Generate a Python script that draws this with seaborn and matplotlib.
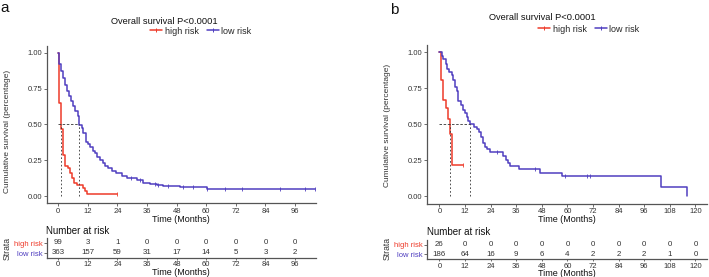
import numpy as np
import matplotlib
matplotlib.use("Agg")
import matplotlib.pyplot as plt
from matplotlib.lines import Line2D
import seaborn as sns

sns.set_style("ticks")
plt.rcParams['font.family'] = ['Liberation Sans', 'DejaVu Sans']

RED = "#EE3B2A"
PURPLE = "#4F3EC0"
GREY_TXT = "#333333"

# ---------------- Panel a data ----------------
a_high_t = [0, 0.1, 0.3, 0.95, 1.76, 2.84, 4.05, 4.73, 5.41, 6.35, 7.43, 10.1, 10.9, 11.8, 23.9]
a_high_s = [1.0, 0.92, 0.65, 0.47, 0.29, 0.21, 0.195, 0.16, 0.125, 0.093, 0.08, 0.06, 0.037, 0.016, 0.016]
a_high_cens = [23.9]

a_low_t = [0, 0.2, 0.95, 1.76, 2.84, 3.38, 4.32, 5.14, 5.95, 6.89, 7.84, 8.38, 9.46, 10.1, 11.1,
           11.9, 12.8, 13.9, 14.9, 15.8, 16.9, 18.0, 18.9, 20.3, 21.6, 23.6, 25.7, 27.7, 31.8,
           34.5, 37.2, 39.9, 42.6, 49.3, 60.1, 104.0]
a_low_s = [1.0, 0.925, 0.876, 0.825, 0.778, 0.731, 0.696, 0.661, 0.626, 0.591, 0.556, 0.499,
           0.474, 0.439, 0.381, 0.364, 0.346, 0.318, 0.299, 0.276, 0.252, 0.234, 0.213, 0.194,
           0.178, 0.159, 0.143, 0.124, 0.112, 0.093, 0.086, 0.077, 0.070, 0.065, 0.051, 0.051]
a_low_cens = [29.5, 33.1, 39.2, 40.6, 44.5, 50.6, 54.6, 60.3, 67.6, 74.5, 89.9, 100.0, 104.0]

a_ticks = [0, 12, 24, 36, 48, 60, 72, 84, 96]
a_risk_high = [99, 3, 1, 0, 0, 0, 0, 0, 0]
a_risk_low = [363, 157, 59, 31, 17, 14, 5, 3, 2]

# ---------------- Panel b data ----------------
b_high_t = [0, 0.6, 1.9, 3.0, 4.1, 5.0, 6.1, 11.3]
b_high_s = [1.0, 0.81, 0.67, 0.615, 0.535, 0.43, 0.214, 0.214]
b_high_cens = [11.3]

b_low_t = [0, 1.1, 1.9, 3.0, 3.8, 4.7, 5.8, 6.6, 7.4, 8.2, 8.9, 10.0, 11.0, 12.1, 12.9, 13.6,
           14.4, 16.3, 17.5, 18.6, 19.4, 20.4, 21.5, 22.2, 23.8, 30.0, 31.3, 32.4, 33.2, 37.1,
           47.3, 57.4, 104.0, 116.0]
b_low_s = [1.0, 0.977, 0.954, 0.92, 0.885, 0.862, 0.839, 0.805, 0.759, 0.729, 0.66, 0.632,
           0.598, 0.575, 0.547, 0.524, 0.499, 0.483, 0.467, 0.444, 0.414, 0.372, 0.345, 0.329,
           0.306, 0.28, 0.253, 0.234, 0.211, 0.19, 0.161, 0.138, 0.065, 0.0]
b_low_cens = [26.9, 44.9, 59.0, 69.2, 70.7]

b_ticks = [0, 12, 24, 36, 48, 60, 72, 84, 96, 108, 120]
b_risk_high = [26, 0, 0, 0, 0, 0, 0, 0, 0, 0, 0]
b_risk_low = [186, 64, 16, 9, 6, 4, 2, 2, 2, 1, 0]

groups = ["high risk", "low risk"]
colors = [RED, PURPLE]

W, H = 709, 277
fig = plt.figure(figsize=(W / 100, H / 100), dpi=100)


def box(l, r, t, b):
    return [l / W, 1 - b / H, (r - l) / W, (b - t) / H]


def style_axis(ax, pad=1.5):
    for side in ["top", "right"]:
        ax.spines[side].set_visible(False)
    for side in ["left", "bottom"]:
        ax.spines[side].set_color("#555555")
        ax.spines[side].set_linewidth(0.9)
    ax.tick_params(axis="both", length=2.0, width=0.6, color="#555555",
                   labelsize=5.5, labelcolor=GREY_TXT, pad=pad)


def step_at(t, s, q):
    t = np.asarray(t)
    s = np.asarray(s)
    idx = np.searchsorted(t, q, side="right") - 1
    return s[idx]


def median_time(t, s):
    t = np.asarray(t)
    s = np.asarray(s)
    return t[np.argmax(s <= 0.5)]


def panel(main_box, tab_box, xlim, ticks, curves, risks, title_pos,
          leg_pos, ylab_pos, strata_pos, nar_pos):
    ax = fig.add_axes(box(*main_box))
    for (t, s, cens), col in zip(curves, colors):
        sns.lineplot(x=t, y=s, drawstyle="steps-post", estimator=None, sort=False,
                     color=col, lw=1.1, ax=ax)
        sns.scatterplot(x=cens, y=step_at(t, s, cens), marker="|", s=12,
                        color=col, linewidth=0.6, ax=ax)
    meds = [median_time(t, s) for (t, s, c) in curves]
    ax.plot([0, max(meds)], [0.5, 0.5], ls=(0, (3, 2)), color="#333333", lw=0.6)
    for m in meds:
        ax.plot([m, m], [0, 0.5], ls=(0, (2, 2.5)), color="#333333", lw=0.6)
    ax.set_xlim(*xlim)
    ax.set_ylim(-0.05, 1.05)
    ax.set_xticks(ticks)
    ax.set_yticks([0, 0.25, 0.5, 0.75, 1.0])
    ax.set_yticklabels(["0.00", "0.25", "0.50", "0.75", "1.00"])
    style_axis(ax, pad=1.2)
    ax.set_xlabel("Time (Months)", fontsize=6.5, labelpad=0.0, color="#111111")
    ax.set_ylabel("")

    fig.text(ylab_pos[0] / W, 1 - ylab_pos[1] / H, "Cumulative survival (percentage)",
             rotation=90, ha="center", va="center", fontsize=6, color=GREY_TXT)
    fig.text(title_pos[0] / W, 1 - title_pos[1] / H, "Overall survival P<0.0001",
             ha="center", va="center", fontsize=6.7, color="#111111")

    handles = [Line2D([0], [0], color=c, lw=1.1, marker="|", markersize=3,
                      markeredgewidth=0.7) for c in colors]
    fig.legend(handles, groups, loc="center", bbox_to_anchor=(leg_pos[0] / W, 1 - leg_pos[1] / H),
               ncol=2, frameon=False, fontsize=6.5, handlelength=1.3, handletextpad=0.3,
               columnspacing=0.9, borderpad=0, borderaxespad=0)

    tab = fig.add_axes(box(*tab_box))
    tab.set_xlim(*xlim)
    tab.set_ylim(-0.5, 1.5)
    for row, (vals, col) in enumerate(zip(risks, colors)):
        y = 1 - row
        for xv, v in zip(ticks, vals):
            tab.text(xv, y, str(v), ha="center", va="center", fontsize=5.7, color=GREY_TXT)
    tab.set_xticks(ticks)
    tab.set_yticks([1, 0])
    tab.set_yticklabels(groups)
    style_axis(tab, pad=0.8)
    tab.tick_params(axis="x", length=1.6)
    for lbl, col in zip(tab.get_yticklabels(), colors):
        lbl.set_color(col)
    tab.set_xlabel("Time (Months)", fontsize=6.5, labelpad=-0.5, color="#111111")
    fig.text(strata_pos[0] / W, 1 - strata_pos[1] / H, "Strata", rotation=90,
             ha="center", va="center", fontsize=6.2, color=GREY_TXT)
    fig.text(nar_pos[0] / W, 1 - nar_pos[1] / H, "Number at risk",
             ha="left", va="center", fontsize=7, color="#111111")
    return ax


panel(main_box=(46.7, 316, 45.7, 203.3), tab_box=(46.7, 316, 238, 258),
      xlim=(-4.7, 104.5), ticks=a_ticks,
      curves=[(a_high_t, a_high_s, a_high_cens), (a_low_t, a_low_s, a_low_cens)],
      risks=[a_risk_high, a_risk_low], title_pos=(164, 21),
      leg_pos=(201, 31), ylab_pos=(7.5, 131), strata_pos=(7.5, 248), nar_pos=(46.5, 231))
fig.text(0.0, 1 - 8 / H, "a", ha="left", va="center", fontsize=11, color="#111111")

panel(main_box=(427, 706.7, 45, 203.5), tab_box=(427, 706.7, 240, 259.3),
      xlim=(-5.8, 125.3), ticks=b_ticks,
      curves=[(b_high_t, b_high_s, b_high_cens), (b_low_t, b_low_s, b_low_cens)],
      risks=[b_risk_high, b_risk_low], title_pos=(542.5, 18),
      leg_pos=(589, 29), ylab_pos=(387.5, 125), strata_pos=(387.5, 249), nar_pos=(427.5, 232.3))
fig.text(390 / W, 1 - 10 / H, "b", ha="left", va="center", fontsize=11, color="#111111")

fig.savefig("out.png", dpi=100)
